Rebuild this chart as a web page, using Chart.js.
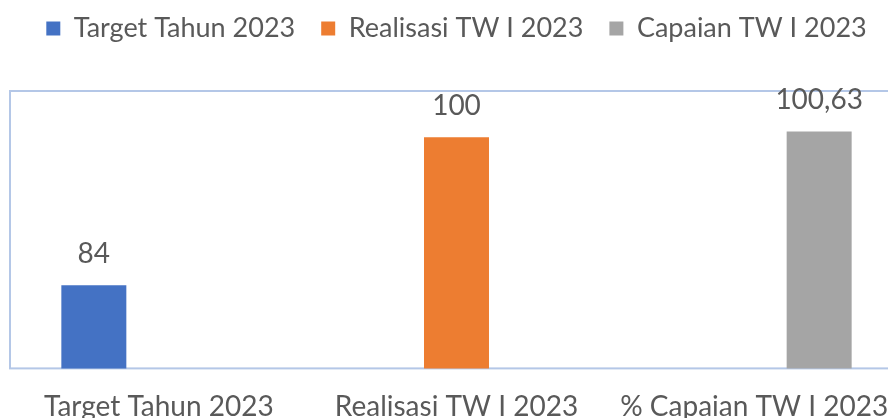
<!DOCTYPE html>
<html>
<head>
<meta charset="utf-8">
<script src="https://cdn.jsdelivr.net/npm/chart.js@4"></script>
<style>
  html, body { margin: 0; padding: 0; background: #fff; overflow: hidden; }
  #wrap { width: 904px; height: 438px; }
</style>
</head>
<body>
<div id="wrap"><canvas id="chart1" width="904" height="438"></canvas></div>
<script>
// data
const categories = ['Target Tahun 2023', 'Realisasi TW I 2023', '% Capaian TW I 2023'];
const seriesNames = ['Target Tahun 2023', 'Realisasi TW I 2023', 'Capaian TW I 2023'];
const targetValues = [84, null, null];
const realisasiValues = [null, 100, null];
const capaianValues = [null, null, 100.63];
const seriesColors = ['#4472C4', '#ED7D31', '#A5A5A5'];

const textColor = '#595959';
const fontFamily = 'Lato, "Open Sans", sans-serif';

// light blue frame round the plot area
const frame = {
    id: 'frame',
    beforeDatasetsDraw(chart) {
        const a = chart.chartArea;
        const ctx = chart.ctx;
        ctx.save();
        ctx.strokeStyle = '#B4C7E7';
        ctx.lineWidth = 2;
        ctx.strokeRect(a.left, a.top, a.right - a.left, a.bottom - a.top);
        ctx.restore();
    }
};

// value labels above each bar
const valueLabels = {
    id: 'valueLabels',
    afterDatasetsDraw(chart) {
        const ctx = chart.ctx;
        ctx.save();
        ctx.fillStyle = textColor;
        ctx.font = '28px ' + fontFamily;
        ctx.textAlign = 'center';
        ctx.textBaseline = 'alphabetic';
        chart.data.datasets.forEach((ds, i) => {
            chart.getDatasetMeta(i).data.forEach((bar, j) => {
                const v = ds.data[j];
                if (v === null) return;
                ctx.fillText(String(v).replace('.', ','), bar.x, bar.y - 22);
            });
        });
        ctx.restore();
    }
};

// extra space between the legend and the plot
const legendGap = {
    id: 'legendGap',
    beforeInit(chart) {
        const fit = chart.legend.fit;
        chart.legend.fit = function () {
            fit.bind(chart.legend)();
            this.height += 39;
        };
    }
};

new Chart(document.getElementById('chart1').getContext('2d'), {
    type: 'bar',
    data: {
        labels: categories,
        datasets: [
            { label: seriesNames[0], data: targetValues, backgroundColor: seriesColors[0] },
            { label: seriesNames[1], data: realisasiValues, backgroundColor: seriesColors[1] },
            { label: seriesNames[2], data: capaianValues, backgroundColor: seriesColors[2] },
        ],
    },
    options: {
        responsive: false,
        animation: false,
        layout: { padding: { left: 10, right: 1, top: -11, bottom: 0 } },
        datasets: {
            bar: { barPercentage: 1, categoryPercentage: 0.655 }
        },
        scales: {
            x: {
                grid: { display: false },
                border: { display: false },
                ticks: { color: textColor, font: { family: fontFamily, size: 28 }, padding: 14, maxRotation: 0 },
            },
            y: {
                display: false,
                min: 75,
                max: 105,
            },
        },
        plugins: {
            legend: {
                labels: {
                    color: textColor,
                    font: { family: fontFamily, size: 27 },
                    boxWidth: 14,
                    boxHeight: 14,
                    padding: 26,
                },
            },
            tooltip: { enabled: false },
        },
    },
    plugins: [frame, valueLabels, legendGap],
});
</script>
</body>
</html>
